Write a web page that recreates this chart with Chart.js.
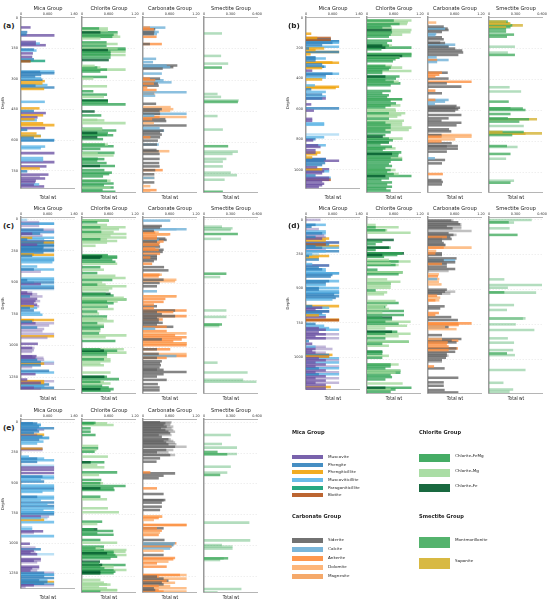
<!DOCTYPE html>
<html>
<head>
<meta charset="utf-8">
<script src="https://cdn.jsdelivr.net/npm/chart.js@4.4.1/dist/chart.umd.min.js"></script>
<style>
  html, body { margin: 0; padding: 0; background: #fff; }
  #root { position: relative; width: 550px; height: 606px; overflow: hidden; }
</style>
</head>
<body>
<div id="root"></div>
<script>
// mineral names, codes and colours per group (lowercase code = faded bar)
const MICA_NAMES = ['Muscovite', 'Phengite', 'Phengiticillite', 'Muscoviticillite', 'Paragoniticillite', 'Biotite'];
const MICA_CODES = ['M', 'P', 'G', 'L', 'T', 'B'];
const MICA_COLORS = ['#6a51a3', '#3182bd', '#f0a30a', '#5ab4e5', '#0f9e74', '#b5541b'];
const CHL_NAMES = ['Chlorite-FeMg', 'Chlorite-Mg', 'Chlorite-Fe'];
const CHL_CODES = ['F', 'M', 'D'];
const CHL_COLORS = ['#31a354', '#a1d99b', '#00592b'];
const CARB_NAMES = ['Siderite', 'Calcite', 'Ankerite', 'Dolomite', 'Magnesite'];
const CARB_CODES = ['S', 'C', 'A', 'O', 'N'];
const CARB_COLORS = ['#636363', '#6baed6', '#fd8d3c', '#fdae6b', '#f4a05a'];
const SMEC_NAMES = ['Montmorillonite', 'Saponite'];
const SMEC_CODES = ['W', 'Y'];
const SMEC_COLORS = ['#41ab5d', '#d4b12f'];

// [depth, total wt, mineral]
const aMica = [[48,.28,'M'],[71,.18,'P'],[82,.16,'P'],[87,1.0,'M'],[119,.44,'M'],[127,.56,'L'],[130,.44,'M'],[135,.74,'M'],[156,.38,'P'],[161,.46,'L'],[175,.35,'M'],[192,.33,'M'],[204,.38,'P'],[212,.72,'T'],[214,.28,'B'],[264,1.0,'L'],[266,.57,'P'],[272,1.0,'P'],[280,.6,'P'],[288,.42,'P'],[296,.6,'L'],[304,.64,'P'],[311,.71,'G'],[322,.64,'G'],[330,.79,'L'],[333,.43,'P'],[342,1.0,'P'],[349,.69,'G'],[412,.71,'L'],[444,.55,'G'],[457,.38,'P'],[467,.74,'M'],[478,.66,'G'],[488,.49,'M'],[497,.4,'G'],[502,.47,'L'],[517,.66,'G'],[526,1.0,'G'],[541,.72,'M'],[549,.18,'P'],[567,.46,'G'],[578,.59,'L'],[580,.59,'G'],[588,.38,'P'],[599,1.0,'L'],[601,.99,'P'],[631,.72,'L'],[639,.59,'L'],[663,1.0,'M'],[687,.66,'L'],[698,.66,'L'],[707,1.0,'M'],[728,.76,'M'],[738,.56,'G'],[752,.18,'P'],[768,.82,'M'],[778,.56,'m'],[787,.72,'M'],[797,.44,'M'],[805,.42,'M'],[816,.54,'L'],[818,.38,'M'],[826,.69,'M']];
const aChlorite = [[52,.58,'M'],[52,.38,'F'],[62,.58,'M'],[71,.80,'F'],[71,.41,'D'],[82,.80,'M'],[82,.71,'F'],[92,.86,'M'],[92,.68,'F'],[100,.41,'M'],[119,.55,'F'],[127,.80,'M'],[135,.55,'F'],[148,.80,'M'],[148,.98,'F'],[156,.98,'F'],[156,.58,'D'],[164,.98,'M'],[164,.64,'F'],[172,.64,'F'],[180,.98,'M'],[180,.64,'F'],[192,.64,'F'],[204,.60,'D'],[232,.28,'M'],[240,.41,'M'],[240,.34,'F'],[250,.98,'M'],[250,.56,'F'],[259,.41,'F'],[285,.56,'F'],[293,.25,'M'],[330,.56,'M'],[354,.25,'F'],[370,.56,'F'],[381,.49,'M'],[398,.58,'F'],[400,.58,'D'],[407,.58,'F'],[417,.98,'F'],[451,.28,'D'],[470,.43,'F'],[491,.34,'M'],[494,.50,'M'],[507,.98,'M'],[534,.45,'F'],[536,.45,'M'],[542,.77,'F'],[554,.58,'F'],[554,.34,'D'],[563,.56,'F'],[565,.70,'F'],[575,.34,'D'],[584,.47,'F'],[610,.58,'M'],[610,.51,'F'],[618,.71,'F'],[631,.41,'F'],[650,.73,'F'],[652,.35,'M'],[663,.71,'M'],[678,.35,'F'],[680,.50,'F'],[687,.34,'F'],[699,.55,'F'],[713,.74,'F'],[713,.40,'D'],[733,.50,'F'],[745,.67,'F'],[752,.61,'F'],[763,.47,'F'],[784,.64,'M'],[784,.56,'F'],[797,.71,'F'],[805,.49,'F'],[816,.64,'M'],[816,.71,'F'],[829,.46,'F'],[837,.75,'F']];
const aCarbonate = [[48,.15,'A'],[48,.5,'C'],[56,.24,'A'],[56,.27,'S'],[69,.25,'S'],[69,.35,'C'],[79,.31,'C'],[79,.24,'S'],[92,.3,'A'],[127,.42,'A'],[127,.15,'S'],[198,.29,'C'],[214,.22,'C'],[230,.53,'C'],[230,.77,'S'],[238,.68,'S'],[238,.61,'C'],[245,.44,'S'],[269,.42,'C'],[293,.15,'A'],[293,.38,'S'],[301,.27,'A'],[301,.46,'C'],[311,.64,'C'],[317,.24,'A'],[317,.33,'S'],[327,.35,'S'],[336,.09,'A'],[348,.3,'A'],[359,.98,'C'],[365,.24,'C'],[365,.25,'A'],[375,.27,'C'],[414,.29,'S'],[430,.62,'O'],[440,.42,'S'],[440,.68,'O'],[448,.37,'S'],[448,.61,'O'],[462,.98,'C'],[462,.38,'S'],[472,.25,'C'],[478,.37,'A'],[478,.98,'O'],[488,.2,'A'],[488,.5,'S'],[497,.52,'S'],[507,.24,'O'],[518,.98,'S'],[531,.37,'C'],[543,.46,'S'],[543,.47,'C'],[552,.38,'S'],[562,.42,'S'],[575,.16,'A'],[575,.38,'S'],[591,.33,'S'],[610,.35,'C'],[610,.31,'S'],[636,.3,'S'],[642,.59,'O'],[642,.35,'S'],[655,.37,'S'],[679,.37,'S'],[699,.36,'S'],[715,.37,'S'],[733,.44,'A'],[733,.27,'S'],[753,.25,'S'],[770,.25,'O'],[770,.25,'C'],[792,.25,'S'],[810,.16,'O'],[829,.3,'A'],[837,.16,'O']];
const aSmectite = [[76,.2,'w'],[184,.19,'w'],[221,.27,'w'],[240,.2,'W'],[367,.15,'w'],[381,.19,'w'],[398,.39,'w'],[405,.38,'W'],[473,.15,'w'],[538,.21,'w'],[618,.27,'W'],[644,.38,'w'],[655,.32,'w'],[679,.25,'w'],[692,.21,'w'],[715,.21,'w'],[745,.3,'w'],[757,.37,'w'],[779,.23,'w'],[837,.21,'W']];

const bMica = [[106,.15,'G'],[134,.33,'G'],[134,.74,'B'],[144,.74,'P'],[146,.74,'B'],[155,.99,'L'],[155,.99,'P'],[166,.99,'L'],[166,.79,'P'],[181,.48,'P'],[192,.99,'L'],[203,.08,'P'],[203,.54,'G'],[213,.28,'G'],[226,.99,'G'],[226,.99,'P'],[241,.13,'G'],[261,.28,'P'],[269,.59,'L'],[269,.28,'P'],[282,.28,'P'],[295,.79,'G'],[297,.99,'G'],[308,.48,'P'],[323,.59,'L'],[323,.54,'P'],[332,.48,'G'],[349,.18,'M'],[369,.99,'L'],[369,.79,'P'],[381,.59,'P'],[394,.59,'L'],[407,.48,'G'],[446,.26,'L'],[455,.99,'G'],[463,.89,'G'],[472,.15,'P'],[489,.59,'L'],[506,.48,'P'],[519,.59,'L'],[532,.59,'M'],[532,.48,'P'],[571,.15,'M'],[597,.99,'P'],[612,.23,'M'],[666,.18,'M'],[679,.18,'M'],[696,.54,'L'],[705,.54,'L'],[769,.99,'l'],[787,.54,'L'],[800,.28,'P'],[808,.21,'M'],[840,.59,'L'],[840,.36,'M'],[851,.43,'M'],[873,.28,'M'],[888,.43,'G'],[888,.28,'M'],[899,.33,'G'],[920,.18,'G'],[931,.59,'M'],[931,.59,'P'],[942,.99,'M'],[942,.54,'P'],[957,.57,'P'],[970,.48,'P'],[985,.33,'M'],[998,.69,'M'],[998,.48,'G'],[1011,.69,'L'],[1011,.54,'M'],[1024,.48,'M'],[1039,.28,'P'],[1054,.74,'L'],[1054,.69,'M'],[1067,.74,'B'],[1067,.69,'M'],[1078,.48,'M'],[1093,.54,'M'],[1103,.48,'M'],[1114,.38,'M']];
const bChlorite = [[19,1.0,'M'],[19,.6,'F'],[30,.92,'M'],[41,.9,'M'],[41,.73,'F'],[54,.53,'F'],[65,.56,'M'],[65,.34,'F'],[80,1.0,'M'],[80,.55,'D'],[95,.98,'M'],[95,.56,'F'],[110,.79,'M'],[110,.53,'F'],[123,.49,'F'],[149,.56,'F'],[166,.45,'F'],[181,.56,'M'],[181,.49,'F'],[181,.34,'D'],[194,1.0,'F'],[194,.41,'D'],[205,.32,'F'],[235,1.0,'M'],[235,1.0,'F'],[248,1.0,'F'],[248,.79,'D'],[259,.73,'M'],[259,.73,'F'],[269,.64,'F'],[282,.58,'F'],[312,.56,'M'],[312,.41,'F'],[323,.79,'M'],[323,.53,'F'],[334,.49,'F'],[345,1.0,'M'],[345,.34,'F'],[358,.34,'F'],[381,.73,'F'],[381,.41,'D'],[394,.65,'F'],[403,.41,'F'],[414,.71,'M'],[414,.6,'F'],[425,.75,'F'],[437,.53,'F'],[474,.53,'F'],[489,.34,'F'],[502,.49,'F'],[515,.45,'F'],[528,.79,'M'],[528,.79,'F'],[539,.53,'F'],[554,.65,'F'],[567,.75,'M'],[567,.53,'F'],[580,.41,'F'],[593,.64,'M'],[603,.65,'M'],[618,.86,'M'],[618,.49,'F'],[629,.77,'M'],[640,.68,'M'],[653,.49,'F'],[666,.83,'M'],[679,.79,'M'],[679,.41,'F'],[694,.79,'M'],[694,.53,'F'],[711,1.0,'M'],[711,.53,'F'],[726,.94,'M'],[726,.41,'F'],[741,.53,'F'],[759,.41,'F'],[769,.35,'D'],[782,.8,'M'],[782,.49,'F'],[793,.58,'F'],[806,.49,'D'],[806,.49,'F'],[819,.3,'F'],[834,.56,'F'],[845,.64,'M'],[845,.41,'F'],[855,.35,'F'],[871,.77,'F'],[881,.71,'F'],[881,.56,'D'],[894,.7,'F'],[907,.79,'M'],[907,.53,'F'],[918,.79,'F'],[931,.53,'F'],[946,.49,'F'],[959,.56,'F'],[972,.41,'F'],[985,.64,'M'],[985,.53,'F'],[998,.45,'F'],[1011,.71,'M'],[1011,.6,'F'],[1024,1.0,'F'],[1024,.41,'D'],[1039,.49,'F'],[1050,.32,'F'],[1065,.56,'F'],[1078,.45,'F'],[1093,.56,'F'],[1105,.43,'F'],[1118,.53,'F']];
const bCarbonate = [[32,.18,'O'],[58,.35,'S'],[71,.44,'S'],[71,.38,'C'],[80,.46,'S'],[93,.31,'S'],[106,.18,'C'],[114,.16,'C'],[127,.31,'S'],[140,.35,'S'],[162,.27,'S'],[164,.38,'S'],[175,.61,'C'],[188,.46,'C'],[188,.46,'S'],[200,.61,'S'],[213,.77,'S'],[226,.79,'S'],[241,.68,'S'],[256,.19,'C'],[274,.46,'C'],[274,.2,'A'],[287,.2,'C'],[356,.44,'S'],[356,.31,'A'],[369,.25,'A'],[381,.16,'A'],[394,.46,'S'],[414,.98,'A'],[425,.42,'S'],[446,.75,'S'],[472,.16,'A'],[489,.31,'S'],[532,.46,'C'],[532,.16,'A'],[543,.38,'C'],[558,.15,'C'],[571,.64,'S'],[582,.72,'S'],[584,.61,'S'],[593,.68,'S'],[603,.61,'S'],[629,.75,'S'],[651,.46,'S'],[666,.3,'S'],[679,.75,'S'],[696,.64,'S'],[722,.47,'S'],[735,.52,'S'],[759,.98,'O'],[759,.3,'S'],[769,.98,'O'],[769,.3,'A'],[787,.61,'O'],[800,.3,'A'],[812,.53,'S'],[830,.67,'S'],[832,.42,'S'],[847,.67,'S'],[866,.42,'S'],[909,.15,'C'],[920,.38,'S'],[942,.31,'S'],[1011,.33,'A'],[1050,.3,'S'],[1062,.33,'S'],[1078,.31,'S']];
const bSmectite = [[26,.21,'W'],[26,.19,'Y'],[37,.23,'Y'],[39,.24,'Y'],[50,.38,'Y'],[50,.26,'W'],[62,.19,'Y'],[62,.24,'W'],[75,.19,'W'],[90,.19,'W'],[110,.28,'W'],[123,.2,'W'],[188,.29,'w'],[226,.21,'w'],[241,.29,'W'],[450,.23,'w'],[478,.36,'w'],[543,.22,'W'],[586,.24,'W'],[588,.38,'W'],[597,.41,'W'],[623,.24,'W'],[651,.21,'W'],[657,.54,'Y'],[657,.45,'W'],[672,.34,'W'],[700,.39,'w'],[739,.15,'Y'],[739,.39,'W'],[748,.6,'Y'],[750,.41,'Y'],[759,.26,'W'],[830,.2,'W'],[836,.32,'w'],[881,.24,'W'],[912,.19,'w'],[1054,.28,'w'],[1067,.24,'W']];

const cMica = [[5,.18,'l'],[23,.54,'m'],[36,.99,'P'],[36,.99,'L'],[52,.54,'m'],[83,.67,'P'],[83,.99,'m'],[101,.99,'M'],[101,.99,'L'],[114,.33,'M'],[114,.57,'P'],[129,.64,'m'],[147,.33,'G'],[147,.99,'L'],[160,.18,'P'],[160,.69,'L'],[175,.99,'P'],[175,.69,'m'],[186,.67,'P'],[186,.99,'G'],[201,.48,'M'],[201,.99,'P'],[212,.67,'P'],[214,.99,'P'],[227,.67,'P'],[237,.64,'P'],[239,.99,'P'],[250,.99,'P'],[263,.67,'P'],[279,.38,'G'],[281,.99,'G'],[289,.33,'P'],[304,.99,'L'],[322,.99,'P'],[322,.99,'L'],[340,.94,'L'],[374,.48,'L'],[397,.38,'P'],[397,.99,'L'],[415,.59,'m'],[470,.99,'L'],[482,.18,'P'],[482,.99,'L'],[500,.99,'P'],[502,.38,'p'],[513,.59,'M'],[526,.99,'L'],[542,.99,'P'],[552,.99,'p'],[580,.18,'M'],[580,.33,'m'],[593,.33,'M'],[593,.48,'m'],[611,.26,'P'],[611,.64,'m'],[630,.48,'M'],[648,.43,'M'],[648,.57,'m'],[663,.38,'M'],[676,.48,'M'],[689,.38,'G'],[689,.54,'m'],[702,.26,'P'],[702,.48,'L'],[722,.38,'P'],[740,.57,'L'],[756,.64,'L'],[797,.99,'G'],[799,.38,'G'],[810,.33,'P'],[823,.43,'M'],[823,.99,'m'],[841,.84,'m'],[857,.48,'P'],[869,.69,'m'],[887,.64,'m'],[908,.99,'m'],[926,.99,'G'],[939,.79,'m'],[986,.5,'M'],[1019,.33,'M'],[1019,.4,'m'],[1037,.38,'m'],[1050,.33,'m'],[1084,.46,'M'],[1086,.33,'M'],[1097,.43,'M'],[1097,.67,'m'],[1112,.48,'P'],[1112,.69,'m'],[1130,.59,'P'],[1130,.99,'l'],[1143,.69,'G'],[1143,.99,'m'],[1156,.59,'P'],[1171,.33,'m'],[1200,.84,'P'],[1213,.99,'L'],[1226,.43,'M'],[1269,.18,'M'],[1282,.69,'G'],[1282,.99,'m'],[1295,.59,'M'],[1297,.69,'G'],[1308,.84,'P'],[1321,.69,'P'],[1321,.69,'L'],[1334,.38,'M'],[1334,.99,'P'],[1342,.59,'m']];
const cChlorite = [[10,.6,'F'],[10,.58,'M'],[23,.34,'F'],[44,.56,'M'],[62,.98,'M'],[62,.41,'F'],[77,.83,'M'],[98,.71,'M'],[98,.43,'F'],[114,1.0,'M'],[126,.64,'M'],[142,1.0,'M'],[155,.41,'F'],[155,.56,'M'],[168,.79,'M'],[181,.56,'M'],[206,.3,'M'],[279,.58,'F'],[289,.45,'D'],[289,.79,'F'],[299,.41,'D'],[299,.79,'F'],[315,.68,'F'],[330,.75,'F'],[346,.79,'M'],[372,.41,'F'],[392,.49,'M'],[418,.34,'F'],[439,.75,'M'],[457,.98,'M'],[472,.68,'F'],[490,.45,'M'],[508,.34,'F'],[508,.53,'M'],[521,1.0,'M'],[537,.68,'M'],[552,.6,'M'],[580,.64,'D'],[580,.53,'F'],[593,.71,'F'],[611,.94,'M'],[624,1.0,'F'],[624,1.0,'M'],[640,.56,'F'],[640,.8,'M'],[653,.71,'F'],[668,.55,'M'],[679,.58,'F'],[697,.71,'M'],[717,.34,'F'],[733,.38,'M'],[756,.56,'F'],[774,.47,'M'],[776,.56,'M'],[792,.71,'M'],[808,.34,'F'],[820,.49,'M'],[836,.49,'F'],[851,.41,'F'],[869,.41,'M'],[887,.38,'F'],[903,1.0,'M'],[918,.53,'M'],[947,.75,'F'],[1011,.41,'F'],[1011,.94,'M'],[1022,.79,'F'],[1022,.49,'D'],[1037,1.0,'M'],[1037,.56,'F'],[1053,.56,'F'],[1071,.56,'M'],[1089,.49,'F'],[1089,.64,'M'],[1104,.64,'M'],[1122,.41,'M'],[1135,.49,'M'],[1192,.64,'M'],[1225,.56,'F'],[1225,.5,'D'],[1243,.83,'F'],[1264,.41,'F'],[1264,.49,'M'],[1277,.64,'M'],[1295,.45,'F'],[1308,.6,'F'],[1321,.71,'F'],[1321,.41,'D'],[1334,.64,'F']];
const cCarbonate = [[10,.61,'C'],[52,.42,'S'],[64,.38,'S'],[77,.98,'C'],[79,.75,'c'],[90,.24,'S'],[103,.27,'A'],[103,.35,'O'],[116,.61,'A'],[118,.57,'O'],[134,.31,'A'],[150,.5,'S'],[150,.31,'A'],[160,.35,'C'],[160,.53,'S'],[173,.31,'S'],[173,.46,'A'],[186,.38,'A'],[199,.35,'S'],[199,.35,'A'],[212,.38,'S'],[227,.27,'A'],[237,.35,'A'],[237,.46,'S'],[253,.44,'S'],[268,.38,'A'],[284,.31,'S'],[297,.16,'A'],[297,.31,'S'],[310,.31,'S'],[325,.24,'S'],[346,.2,'A'],[372,.47,'S'],[397,.57,'S'],[431,.37,'A'],[431,.42,'O'],[444,.35,'A'],[470,.46,'S'],[470,.75,'O'],[482,.72,'O'],[495,.37,'S'],[521,.31,'S'],[560,.31,'C'],[599,.75,'A'],[599,.75,'O'],[619,.5,'A'],[642,.46,'A'],[663,.24,'A'],[676,.31,'S'],[691,.24,'A'],[709,.72,'S'],[709,.98,'A'],[722,.31,'S'],[722,.68,'A'],[738,.42,'S'],[753,.98,'A'],[753,.72,'S'],[766,.31,'S'],[779,.35,'S'],[779,.44,'A'],[795,.35,'S'],[805,.44,'S'],[818,.31,'S'],[836,.68,'S'],[836,.53,'A'],[851,.27,'C'],[869,.53,'A'],[887,.98,'O'],[903,.72,'A'],[918,.98,'A'],[934,.42,'S'],[934,.87,'A'],[949,.68,'A'],[965,.98,'A'],[965,.98,'O'],[980,.98,'A'],[1011,.61,'A'],[1011,.31,'S'],[1047,.35,'S'],[1047,.98,'O'],[1063,.75,'C'],[1063,.98,'A'],[1078,.53,'A'],[1078,.31,'S'],[1104,.42,'S'],[1120,.38,'S'],[1135,.4,'S'],[1153,.37,'S'],[1169,.31,'S'],[1171,.46,'S'],[1187,.98,'S'],[1205,.46,'S'],[1223,.31,'S'],[1249,.53,'S'],[1282,.33,'S'],[1308,.37,'S'],[1330,.37,'S']];
const cSmectite = [[57,.2,'w'],[70,.32,'w'],[83,.3,'w'],[114,.38,'W'],[152,.19,'w'],[423,.25,'W'],[449,.18,'w'],[709,.25,'w'],[759,.25,'w'],[818,.2,'W'],[820,.17,'w'],[831,.17,'w'],[1115,.15,'w'],[1192,.49,'w'],[1249,.44,'w'],[1264,.59,'w']];

const dMica = [[0,.43,'m'],[36,.28,'P'],[36,.59,'L'],[50,.16,'P'],[67,.38,'m'],[84,.59,'L'],[98,.48,'P'],[98,.59,'L'],[112,.54,'m'],[124,.28,'P'],[124,.59,'m'],[136,.69,'G'],[136,.48,'M'],[150,.59,'G'],[165,.99,'P'],[165,.99,'m'],[179,.69,'P'],[179,.59,'B'],[191,.28,'P'],[191,.99,'G'],[203,.48,'P'],[203,.99,'L'],[217,.59,'m'],[229,.99,'P'],[229,.59,'L'],[251,.18,'L'],[251,.38,'l'],[263,.69,'G'],[263,.08,'P'],[275,.38,'G'],[289,.38,'P'],[322,.18,'L'],[332,.69,'P'],[332,.69,'m'],[346,.38,'P'],[360,.48,'P'],[360,.59,'L'],[375,.59,'L'],[389,.99,'P'],[389,.99,'L'],[401,.79,'P'],[413,.74,'P'],[446,.69,'P'],[446,.99,'L'],[461,.59,'P'],[475,.59,'L'],[497,.38,'P'],[497,.99,'L'],[508,.38,'P'],[520,.99,'L'],[532,.99,'P'],[532,.99,'L'],[544,.84,'P'],[556,.99,'P'],[568,.89,'P'],[580,.79,'L'],[628,.99,'G'],[628,.18,'P'],[640,.48,'M'],[640,.69,'L'],[652,.28,'M'],[666,.69,'M'],[666,.69,'P'],[680,.48,'P'],[695,.38,'G'],[695,.59,'L'],[709,.59,'M'],[728,.99,'G'],[730,.99,'B'],[757,.28,'P'],[771,.54,'L'],[788,.38,'M'],[788,.69,'L'],[800,.59,'M'],[800,.99,'L'],[819,.38,'M'],[833,.59,'M'],[833,.99,'m'],[847,.28,'M'],[862,.59,'M'],[862,.99,'m'],[883,.08,'P'],[902,.18,'M'],[924,.28,'L'],[924,.59,'m'],[940,.28,'M'],[940,.79,'m'],[952,.18,'M'],[967,.28,'M'],[967,.59,'m'],[983,.79,'G'],[983,.69,'P'],[995,.69,'M'],[995,.69,'G'],[1007,.38,'M'],[1007,.99,'L'],[1022,.59,'M'],[1022,.99,'m'],[1038,.28,'M'],[1038,.99,'L'],[1053,.59,'M'],[1067,.28,'M'],[1067,.99,'m'],[1081,.38,'P'],[1081,.99,'L'],[1096,.59,'M'],[1110,.28,'M'],[1110,.99,'m'],[1124,.38,'P'],[1124,.99,'L'],[1139,.59,'M'],[1153,.28,'M'],[1153,.99,'m'],[1170,.59,'M'],[1186,.28,'M'],[1186,.99,'m'],[1201,.59,'M'],[1217,.74,'G'],[1217,.59,'m'],[1229,.59,'M']];
const dChlorite = [[36,.19,'M'],[53,.71,'M'],[53,.19,'F'],[74,.45,'M'],[74,.41,'F'],[91,.98,'M'],[143,.6,'D'],[155,.34,'F'],[174,.19,'F'],[198,.49,'D'],[198,.53,'F'],[215,.19,'F'],[239,.83,'D'],[239,.79,'F'],[251,.34,'D'],[251,.68,'F'],[263,.38,'F'],[286,.49,'M'],[298,.71,'F'],[298,.98,'M'],[310,.53,'M'],[322,.64,'F'],[322,.71,'M'],[356,.23,'F'],[375,.8,'F'],[375,.8,'M'],[389,.71,'F'],[425,.45,'M'],[442,.75,'M'],[456,.53,'F'],[456,.53,'M'],[470,.53,'M'],[485,.53,'M'],[504,.19,'F'],[518,.45,'M'],[532,.38,'M'],[580,.64,'M'],[594,.71,'F'],[609,.45,'M'],[623,.38,'M'],[623,.41,'F'],[637,.49,'M'],[652,.83,'F'],[664,.34,'M'],[680,.83,'F'],[699,.56,'D'],[699,.34,'F'],[711,.56,'F'],[728,.98,'M'],[728,.41,'F'],[742,.71,'F'],[757,.9,'M'],[776,.41,'M'],[800,.56,'D'],[800,.68,'F'],[814,.98,'M'],[814,.41,'F'],[831,.71,'M'],[847,.41,'F'],[871,.94,'F'],[871,.94,'M'],[886,.34,'F'],[900,.49,'M'],[943,.34,'D'],[943,.34,'F'],[957,.34,'F'],[972,.49,'M'],[986,.34,'F'],[1034,.53,'F'],[1034,.71,'M'],[1048,.53,'F'],[1062,.41,'F'],[1079,.75,'F'],[1079,.75,'M'],[1093,.75,'F'],[1093,.64,'M'],[1110,.53,'F'],[1124,.56,'F'],[1141,.41,'F'],[1170,.8,'M'],[1201,1.0,'F'],[1201,.41,'D'],[1213,.64,'F'],[1213,.53,'M'],[1229,.53,'F']];
const dCarbonate = [[5,.52,'S'],[5,.57,'s'],[17,.68,'S'],[31,.72,'S'],[31,.75,'s'],[45,.42,'S'],[45,.75,'s'],[60,.55,'S'],[60,.75,'s'],[79,.98,'s'],[95,.46,'S'],[107,.57,'S'],[107,.64,'s'],[122,.42,'A'],[122,.5,'S'],[136,.53,'S'],[136,.31,'s'],[150,.31,'S'],[165,.35,'S'],[179,.38,'S'],[179,.4,'s'],[198,.35,'A'],[198,.98,'O'],[222,.18,'O'],[239,.16,'A'],[239,.31,'S'],[251,.31,'S'],[275,.64,'S'],[289,.35,'S'],[289,.61,'C'],[303,.61,'S'],[315,.31,'A'],[315,.42,'S'],[334,.42,'S'],[351,.61,'S'],[365,.46,'s'],[389,.24,'O'],[403,.22,'A'],[423,.2,'C'],[423,.25,'O'],[442,.24,'O'],[461,.3,'O'],[499,.42,'S'],[513,.38,'S'],[513,.61,'s'],[527,.31,'S'],[527,.5,'s'],[542,.2,'A'],[556,.27,'O'],[575,.25,'O'],[575,.16,'A'],[618,.37,'S'],[633,.27,'S'],[666,.24,'A'],[680,.16,'A'],[695,.52,'S'],[716,.67,'S'],[740,.98,'A'],[742,.68,'A'],[752,.69,'A'],[766,.38,'O'],[766,.46,'S'],[781,.64,'O'],[824,.31,'S'],[852,.31,'O'],[852,.75,'S'],[864,.68,'A'],[864,.53,'S'],[876,.44,'A'],[876,.64,'S'],[890,.42,'A'],[905,.46,'A'],[919,.67,'A'],[919,.64,'S'],[931,.46,'A'],[943,.61,'S'],[957,.42,'S'],[971,.42,'S'],[971,.46,'s'],[986,.4,'S'],[1003,.31,'S'],[1014,.31,'s'],[1048,.13,'A'],[1062,.37,'S'],[1129,.68,'S'],[1162,.35,'S'],[1186,.35,'S'],[1217,.37,'S'],[1234,.68,'S']];
const dSmectite = [[0,.48,'w'],[17,.22,'W'],[19,.28,'w'],[60,.23,'w'],[107,.32,'W'],[425,.17,'w'],[465,.6,'w'],[485,.21,'w'],[518,.17,'W'],[520,.53,'w'],[609,.28,'w'],[644,.2,'w'],[704,.41,'w'],[706,.38,'w'],[747,.3,'w'],[788,.51,'w'],[847,.21,'w'],[878,.28,'w'],[931,.27,'w'],[955,.2,'W'],[967,.29,'w'],[1074,.41,'w'],[1165,.16,'w'],[1213,.27,'w'],[1229,.23,'w']];

const eMica = [[8,.35,'P'],[10,.48,'P'],[22,.59,'P'],[22,.59,'L'],[35,.54,'P'],[49,.99,'P'],[49,.69,'L'],[62,.48,'P'],[62,.69,'m'],[76,.54,'P'],[89,.38,'P'],[103,.69,'G'],[103,.48,'m'],[117,.64,'P'],[130,.84,'P'],[130,.84,'L'],[144,.54,'P'],[160,.67,'L'],[176,.48,'L'],[220,.64,'M'],[220,.64,'G'],[230,.64,'m'],[285,.23,'L'],[301,.48,'P'],[301,.69,'L'],[314,.99,'L'],[328,.48,'P'],[361,.99,'l'],[374,.99,'M'],[393,.99,'M'],[420,.99,'M'],[450,.64,'P'],[450,.99,'L'],[464,.99,'L'],[477,.59,'L'],[491,.69,'P'],[523,.99,'L'],[537,.99,'L'],[550,.99,'P'],[564,.99,'L'],[577,.64,'L'],[618,.48,'P'],[618,.99,'L'],[632,.99,'L'],[648,.59,'L'],[664,.99,'P'],[680,.79,'L'],[694,.99,'P'],[713,.99,'L'],[729,.67,'L'],[746,.99,'P'],[746,.99,'L'],[762,.99,'P'],[781,.59,'M'],[781,.84,'m'],[794,.59,'L'],[794,.79,'l'],[808,.69,'G'],[827,.99,'L'],[870,.33,'l'],[884,.33,'L'],[903,.66,'M'],[903,.38,'m'],[916,.38,'m'],[943,.99,'L'],[1006,.26,'M'],[1038,.43,'m'],[1052,.59,'P'],[1065,.38,'M'],[1079,.28,'M'],[1079,.43,'m'],[1093,.48,'M'],[1093,.99,'l'],[1133,.59,'M'],[1147,.38,'M'],[1147,.59,'m'],[1160,.48,'m'],[1196,.54,'M'],[1209,.33,'M'],[1209,.54,'m'],[1228,.28,'M'],[1228,.48,'m'],[1247,.69,'P'],[1247,.99,'m'],[1263,.99,'P'],[1263,.99,'L'],[1277,.69,'P'],[1290,.99,'P'],[1309,.54,'P'],[1309,.79,'L'],[1323,.99,'G'],[1323,.79,'P'],[1337,.69,'P'],[1337,.99,'L'],[1350,.38,'M'],[1350,.99,'m'],[1364,.13,'m']];
const eChlorite = [[5,.3,'F'],[8,.26,'F'],[8,.56,'M'],[22,.71,'M'],[49,.19,'F'],[76,.19,'F'],[103,.3,'F'],[192,.36,'M'],[211,.36,'F'],[225,.32,'M'],[239,.28,'F'],[279,.58,'M'],[325,.19,'D'],[325,.5,'F'],[347,.34,'M'],[366,.5,'M'],[407,.79,'F'],[428,.38,'M'],[469,.43,'F'],[496,.41,'F'],[496,.47,'M'],[518,.98,'F'],[537,.41,'D'],[537,.71,'F'],[550,.73,'F'],[605,.41,'F'],[626,.56,'M'],[699,.58,'M'],[732,.83,'M'],[808,.45,'F'],[827,.34,'M'],[870,.26,'F'],[870,.34,'D'],[884,.7,'F'],[903,.34,'F'],[914,.71,'F'],[957,.41,'F'],[979,.79,'M'],[1011,.49,'F'],[1025,.3,'F'],[1025,.41,'M'],[1038,.49,'F'],[1038,1.0,'M'],[1052,.71,'F'],[1052,.98,'M'],[1065,.56,'D'],[1065,.71,'F'],[1079,.75,'F'],[1079,1.0,'M'],[1093,.79,'F'],[1106,.64,'F'],[1133,.4,'D'],[1147,.38,'F'],[1160,.98,'F'],[1160,.45,'D'],[1174,.41,'F'],[1174,.71,'M'],[1187,.5,'F'],[1201,.71,'F'],[1201,1.0,'M'],[1215,.41,'D'],[1215,.75,'F'],[1228,.41,'D'],[1228,.71,'F'],[1282,.41,'M'],[1304,.49,'M'],[1318,.56,'M'],[1320,.64,'M'],[1337,.38,'M'],[1350,.56,'M'],[1364,.79,'M'],[1366,.79,'M'],[1377,.41,'F']];
const eCarbonate = [[0,.38,'S'],[0,.64,'s'],[8,.5,'S'],[8,.62,'s'],[22,.46,'S'],[22,.61,'s'],[35,.53,'S'],[35,.68,'s'],[49,.4,'S'],[49,.64,'s'],[62,.5,'S'],[62,.68,'s'],[76,.57,'S'],[76,.72,'s'],[89,.61,'S'],[103,.35,'S'],[103,.64,'s'],[117,.42,'S'],[138,.57,'S'],[138,.62,'s'],[152,.46,'S'],[152,.68,'s'],[165,.52,'S'],[165,.72,'s'],[179,.57,'S'],[179,.75,'s'],[198,.72,'S'],[198,.98,'s'],[225,.52,'S'],[225,.68,'s'],[244,.31,'S'],[244,.57,'s'],[266,.61,'S'],[266,.72,'s'],[293,.38,'S'],[320,.3,'S'],[407,.16,'A'],[415,.72,'S'],[434,.46,'S'],[455,.35,'S'],[537,.31,'A'],[583,.46,'S'],[632,.5,'S'],[634,.46,'S'],[653,.42,'S'],[686,.42,'S'],[713,.38,'S'],[767,.43,'A'],[767,.42,'O'],[778,.35,'A'],[794,.24,'O'],[835,.98,'O'],[835,.98,'A'],[862,.31,'A'],[862,.46,'S'],[881,.42,'A'],[897,.38,'O'],[916,.35,'A'],[957,.48,'S'],[984,.72,'C'],[984,.75,'A'],[998,.68,'S'],[998,.68,'C'],[1011,.64,'C'],[1011,.64,'A'],[1027,.61,'C'],[1044,.46,'O'],[1079,.46,'S'],[1103,.72,'A'],[1114,.68,'A'],[1133,.57,'O'],[1147,.31,'A'],[1174,.53,'A'],[1242,.98,'O'],[1242,.83,'A'],[1255,.35,'A'],[1255,.31,'S'],[1271,.98,'O'],[1271,.46,'S'],[1288,.57,'S'],[1288,.53,'A'],[1304,.42,'S'],[1304,.72,'O'],[1318,.46,'S'],[1331,.35,'A'],[1331,.61,'O'],[1350,.24,'S'],[1350,.98,'O'],[1364,.35,'A'],[1364,.27,'S'],[1377,.98,'O'],[1377,.46,'A']];
const eSmectite = [[103,.3,'w'],[176,.2,'w'],[206,.37,'w'],[241,.15,'W'],[258,.37,'w'],[260,.26,'W'],[361,.3,'w'],[409,.26,'w'],[428,.18,'W'],[816,.51,'w'],[960,.52,'w'],[998,.2,'w'],[1011,.32,'w'],[1027,.32,'w'],[1106,.27,'W'],[1108,.22,'w'],[1120,.18,'w'],[1355,.42,'w'],[1383,.15,'w']];

const GROUPS = [
  { title: 'Mica Group', max: 1.6, step: 0.8, codes: MICA_CODES, colors: MICA_COLORS, left: 21 },
  { title: 'Chlorite Group', max: 1.2, step: 0.6, codes: CHL_CODES, colors: CHL_COLORS, left: 82 },
  { title: 'Carbonate Group', max: 1.2, step: 0.6, codes: CARB_CODES, colors: CARB_COLORS, left: 143 },
  { title: 'Smectite Group', max: 0.6, step: 0.3, codes: SMEC_CODES, colors: SMEC_COLORS, left: 204 }
];
const PANELS = [
  { tag: '(a)', x: 0,   top: 17,  bottom: 192, min: -3,  max: 838,  step: 150, sets: [aMica, aChlorite, aCarbonate, aSmectite] },
  { tag: '(b)', x: 285, top: 17,  bottom: 192, min: -4,  max: 1127, step: 200, sets: [bMica, bChlorite, bCarbonate, bSmectite] },
  { tag: '(c)', x: 0,   top: 217, bottom: 393, min: -18, max: 1351, step: 250, sets: [cMica, cChlorite, cCarbonate, cSmectite] },
  { tag: '(d)', x: 285, top: 217, bottom: 393, min: -21, max: 1238, step: 250, sets: [dMica, dChlorite, dCarbonate, dSmectite] },
  { tag: '(e)', x: 0,   top: 419, bottom: 592, min: -27, max: 1380, step: 250, sets: [eMica, eChlorite, eCarbonate, eSmectite] }
];
const W = 53;
const FONT = 'DejaVu Sans';
const root = document.getElementById('root');

function rgba(hex, a) {
  const n = parseInt(hex.slice(1), 16);
  return 'rgba(' + (n >> 16) + ',' + ((n >> 8) & 255) + ',' + (n & 255) + ',' + a + ')';
}

function barColor(g, code) {
  const up = code.toUpperCase();
  const c = g.colors[g.codes.indexOf(up)];
  return rgba(c, code === up ? 0.78 : 0.4);
}

// tiny text: render big and scale down so no minimum font size kicks in
function addText(str, x, y, size, opts) {
  opts = opts || {};
  const el = document.createElement('div');
  el.textContent = str;
  const k = size / 20;
  el.style.cssText = 'position:absolute;left:' + x + 'px;top:' + y + 'px;font:' + (opts.bold ? 'bold ' : '') +
    '20px "' + FONT + '";line-height:1;white-space:nowrap;color:#222;transform-origin:' +
    (opts.left ? '0 50%' : '50% 50%') + ';transform:' + (opts.left ? 'translateY(-50%)' : 'translate(-50%,-50%)') +
    ' scale(' + k + ');';
  root.appendChild(el);
}

function fmtTick(v) {
  if (v === 0) return '0';
  return v < 1 ? v.toFixed(3) : v.toFixed(2);
}

PANELS.forEach(function (p) {
  addText(p.tag, p.x + 3.3, p.top + 7.8, 7.3, { bold: true, left: true });
  GROUPS.forEach(function (g, j) {
    var first = j === 0;
    var padL = first ? 21 : 6, padR = 8, T = 7;
    var h = p.bottom - p.top;
    var cv = document.createElement('canvas');
    cv.width = padL + W + padR;
    cv.height = T + h + 2;
    cv.style.cssText = 'position:absolute;left:' + (p.x + g.left - padL) + 'px;top:' + (p.top - T) + 'px;';
    root.appendChild(cv);

    var cx = p.x + g.left + W / 2;
    addText(g.title, cx, p.top - 9, 5.1);
    addText('Total wt', cx, p.bottom + 4.6, 4.3);

    // long bars first so the short ones sit on top
    var rows = p.sets[j].slice().sort(function (a, b) { return b[1] - a[1]; });

    new Chart(cv, {
      type: 'bar',
      data: {
        datasets: [{
          data: rows.map(function (r) { return { x: r[1], y: r[0] }; }),
          backgroundColor: rows.map(function (r) { return barColor(g, r[2]); }),
          borderWidth: 0,
          barThickness: 1.9
        }]
      },
      options: {
        indexAxis: 'y',
        responsive: false,
        animation: false,
        devicePixelRatio: 1,
        layout: { padding: { left: first ? 0 : padL, right: padR, top: 0, bottom: 1 } },
        plugins: { legend: { display: false }, tooltip: { enabled: false } },
        scales: {
          x: {
            type: 'linear', position: 'top', min: 0, max: g.max,
            ticks: { stepSize: g.step, padding: 1, autoSkip: false, maxRotation: 0, color: '#333',
                     font: { family: FONT, size: 3.4 }, callback: fmtTick },
            grid: { display: false, drawTicks: false },
            border: { color: '#b5b5b5', width: 1 },
            afterFit: function (s) { s.height = T; }
          },
          x2: {
            axis: 'x', type: 'linear', position: 'bottom', min: 0, max: 1,
            ticks: { display: false },
            grid: { display: false, drawTicks: false },
            border: { color: '#b5b5b5', width: 1 },
            afterFit: function (s) { s.height = 1; }
          },
          y: {
            type: 'linear', reverse: true, min: p.min, max: p.max, offset: false,
            ticks: { display: first, padding: 3, color: '#333', font: { family: FONT, size: 3.5 },
                     callback: function (v) { return String(Math.round(v)); } },
            afterBuildTicks: function (s) {
              var t = [];
              for (var v = 0; v <= p.max; v += p.step) t.push({ value: v });
              s.ticks = t;
            },
            grid: { offset: false, drawTicks: false, color: 'rgba(0,0,0,0.13)', lineWidth: 0.5 },
            border: { color: '#9a9a9a', width: 1.5, dash: [1.5, 1.5] },
            title: { display: first, text: 'Depth', color: '#333', padding: { top: 1, bottom: 0 },
                     font: { family: FONT, size: 3.9 } },
            afterFit: function (s) { s.width = first ? 21 : 0; }
          }
        }
      }
    });
  });
});

// legend block
const LEGEND = [
  { title: 'Mica Group', x: 292, ty: 432.3, names: MICA_NAMES, colors: MICA_COLORS,
    ys: [457, 464.7, 472, 479.7, 487.7, 495], h: 4, dy: 0 },
  { title: 'Chlorite Group', x: 419.3, ty: 432.3, names: CHL_NAMES, colors: CHL_COLORS,
    ys: [458.2, 473, 487.7], h: 8.3, dy: -1.8 },
  { title: 'Carbonate Group', x: 292, ty: 515.7, names: CARB_NAMES, colors: CARB_COLORS,
    ys: [540.8, 549.8, 558.8, 567.8, 576.8], h: 5, dy: -0.7 },
  { title: 'Smectite Group', x: 419.3, ty: 515.7, names: SMEC_NAMES, colors: SMEC_COLORS,
    ys: [542.5, 563.5], h: 11.6, dy: -2.2 }
];
LEGEND.forEach(function (L) {
  addText(L.title, L.x, L.ty, 5.1, { bold: true, left: true });
  L.names.forEach(function (n, i) {
    var sw = document.createElement('div');
    sw.style.cssText = 'position:absolute;left:' + L.x + 'px;top:' + (L.ys[i] - L.h / 2) + 'px;width:30.7px;height:' +
      L.h + 'px;background:' + rgba(L.colors[i], 0.9) + ';';
    root.appendChild(sw);
    addText(n, L.x + 35.7, L.ys[i] + L.dy, 4.15, { left: true });
  });
});
</script>
</body>
</html>
